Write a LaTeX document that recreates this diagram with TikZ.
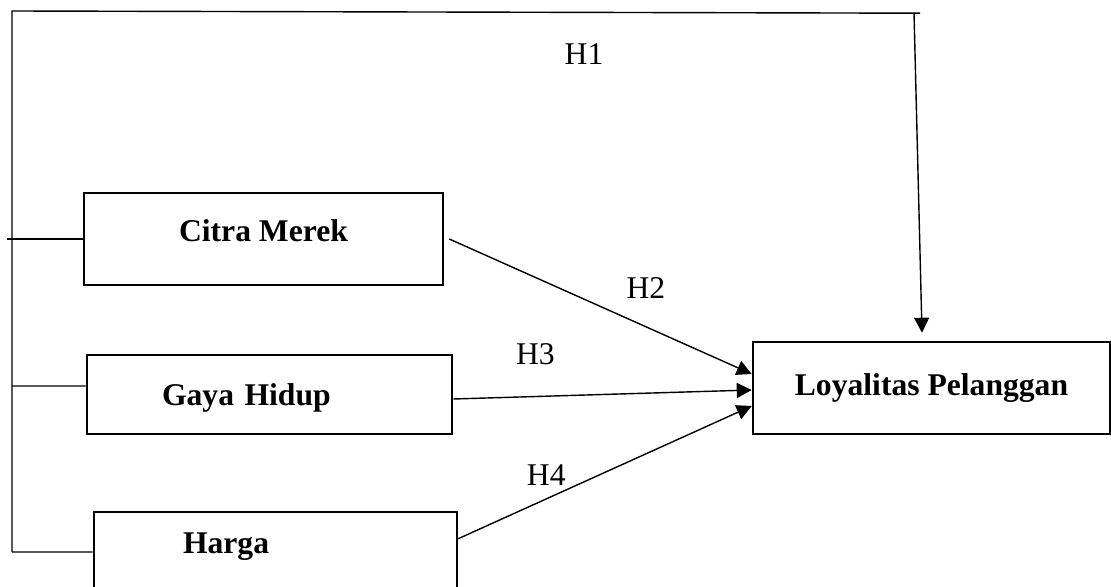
\documentclass[tikz,border=0pt]{standalone}
\usepackage{fontspec}
\setmainfont{Liberation Serif}
\usepackage{tikz}
\usetikzlibrary{positioning}
\usetikzlibrary{arrows.meta}
\tikzset{link/.style = {-{Triangle[length=0.3cm,width=0.3cm]}}}

\begin{document}
\begin{tikzpicture}[x=0.02cm,y=-0.02cm,line width=0.8pt,
    main node/.style={rectangle,draw,line width=1.5pt,font=\fontsize{18pt}{21pt}\selectfont\bfseries,minimum height=1.84cm},
    hyp/.style={font=\fontsize{18pt}{21pt}\selectfont,inner sep=0pt}]
    \useasboundingbox (0,0) rectangle (1111,587);
    \clip (0,0) rectangle (1111,587);

    \node[main node,minimum width=7.18cm,text depth=0.35cm] (citra) at (263.5,239) {Citra Merek};
    \node[main node,minimum height=1.58cm,text width=4.3cm,inner xsep=1.5cm,align=left,text depth=0pt] (gaya) at (269.5,394.5) {Gaya Hidup};
    \node[main node,minimum height=2cm,text width=3.7cm,inner xsep=1.78cm,align=left,text depth=0.75cm] (harga) at (275.5,562) {Harga};
    \node[main node,minimum width=7.14cm] (loyal) at (931.5,388) {Loyalitas Pelanggan};

    \coordinate (corner) at (12,11);
    \coordinate (top end) at (920,13.2);
    \coordinate (drop) at (914,13);
    \coordinate (c tick) at (7,239);
    \coordinate (g tick) at (12,386);
    \coordinate (h tick) at (12,552);

    \draw (h tick) -- (corner) -- node[hyp,pos=0.63,below=0.61cm] {H1} (top end);
    \draw[link] (drop) -- ([xshift=-0.19cm,yshift=0.16cm]loyal.north);
    \draw (c tick) -- (citra.west);
    \draw (g tick) -- ([yshift=0.17cm]gaya.west);
    \draw (h tick) -- ([yshift=0.2cm]harga.west);

    \path[every node/.style={hyp}]
        ([xshift=0.1cm]citra.east) edge[link] node[pos=0.65,above=0.56cm] {H2} ([yshift=0.28cm]loyal.west)
        ([yshift=-0.09cm]gaya.east) edge[link] node[pos=0.275,above=0.63cm] {H3} ([yshift=-0.04cm]loyal.west)
        ([yshift=-0.56cm]harga.north east) edge[link] node[pos=0.3,above=0.25cm] {H4} ([yshift=-0.36cm]loyal.west)
        ;
\end{tikzpicture}
\end{document}
